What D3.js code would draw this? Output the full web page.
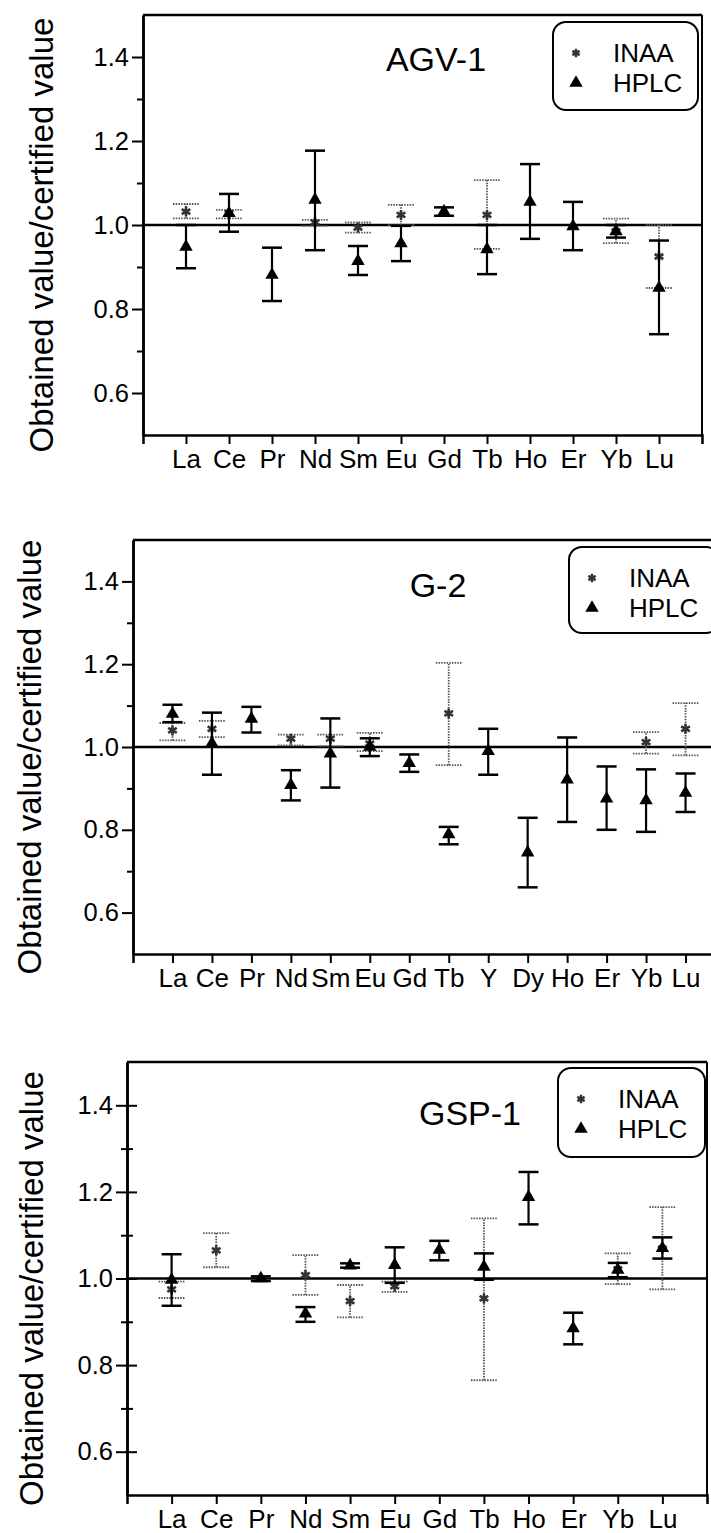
<!DOCTYPE html>
<html>
<head>
<meta charset="utf-8">
<script src="https://d3js.org/d3.v7.min.js"></script>
<style>
body { margin: 0; background: white; }
svg { display: block; background: white; font-family: "Liberation Sans", Arial, sans-serif; }
</style>
</head>
<body>
<svg id="chart" width="711" height="1533"></svg>
<script>
// ---- AGV-1 ----
var agvCats    = ["La","Ce","Pr","Nd","Sm","Eu","Gd","Tb","Ho","Er","Yb","Lu"];
var agvInaa    = [1.032, 1.028, null, 1.006, 0.994, 1.024, null, 1.024, null, null, 0.985, 0.925];
var agvInaaLo  = [1.016, 1.016, null, 0.998, 0.982, 1.000, null, 0.943, null, null, 0.957, 0.850];
var agvInaaHi  = [1.050, 1.036, null, 1.012, 1.006, 1.048, null, 1.107, null, null, 1.015, 1.000];
var agvHplc    = [0.948, 1.028, 0.881, 1.060, 0.914, 0.956, 1.032, 0.942, 1.055, 0.997, 0.985, 0.850];
var agvHplcLo  = [0.897, 0.984, 0.819, 0.940, 0.881, 0.914, 1.022, 0.883, 0.967, 0.940, 0.970, 0.740];
var agvHplcHi  = [1.000, 1.074, 0.946, 1.177, 0.950, 0.998, 1.042, 1.000, 1.145, 1.055, 1.000, 0.963];

// ---- G-2 ----
var g2Cats     = ["La","Ce","Pr","Nd","Sm","Eu","Gd","Tb","Y","Dy","Ho","Er","Yb","Lu"];
var g2Inaa     = [1.040, 1.044, null, 1.020, 1.020, 1.008, null, 1.081, null, null, null, null, 1.012, 1.044];
var g2InaaLo   = [1.016, 1.024, null, 1.004, 1.002, 0.990, null, 0.956, null, null, null, null, 0.984, 0.980];
var g2InaaHi   = [1.058, 1.063, null, 1.030, 1.030, 1.034, null, 1.203, null, null, null, null, 1.036, 1.106];
var g2Hplc     = [1.080, 1.009, 1.068, 0.908, 0.984, 1.000, 0.961, 0.789, 0.990, 0.745, 0.921, 0.875, 0.871, 0.889];
var g2HplcLo   = [1.060, 0.933, 1.035, 0.871, 0.902, 0.978, 0.940, 0.765, 0.933, 0.661, 0.819, 0.800, 0.795, 0.843];
var g2HplcHi   = [1.102, 1.083, 1.097, 0.944, 1.069, 1.021, 0.982, 0.807, 1.044, 0.829, 1.023, 0.953, 0.946, 0.936];

// ---- GSP-1 ----
var gspCats    = ["La","Ce","Pr","Nd","Sm","Eu","Gd","Tb","Ho","Er","Yb","Lu"];
var gspInaa    = [0.975, 1.065, null, 1.008, 0.948, 0.982, null, 0.954, null, null, 1.021, 1.069];
var gspInaaLo  = [0.955, 1.026, null, 0.962, 0.910, 0.969, null, 0.765, null, null, 0.987, 0.975];
var gspInaaHi  = [0.993, 1.105, null, 1.054, 0.985, 0.993, null, 1.139, null, null, 1.058, 1.165];
var gspHplc    = [0.997, null, 1.000, 0.919, 1.030, 1.031, 1.066, 1.027, 1.188, 0.885, 1.020, 1.070];
var gspHplcLo  = [0.937, null, 0.994, 0.900, 1.025, 0.990, 1.042, 0.997, 1.125, 0.848, 1.003, 1.046];
var gspHplcHi  = [1.056, null, 1.005, 0.934, 1.035, 1.072, 1.087, 1.058, 1.246, 0.921, 1.036, 1.095];

var yMajor = [0.6, 0.8, 1.0, 1.2, 1.4];
var yMinor = [0.7, 0.9, 1.1, 1.3];
var yLabel = "Obtained value/certified value";

var panels = [
  {title: "AGV-1", cats: agvCats, inaa: [agvInaa, agvInaaLo, agvInaaHi], hplc: [agvHplc, agvHplcLo, agvHplcHi],
   left: 143, right: 702, top: 15, bottom: 435, titleX: 436, titleY: 71,
   legend: {x: 553, y: 22, w: 145, h: 88}, labelX: 53, cross: false},
  {title: "G-2", cats: g2Cats, inaa: [g2Inaa, g2InaaLo, g2InaaHi], hplc: [g2Hplc, g2HplcLo, g2HplcHi],
   left: 133, right: 725, top: 540, bottom: 954, titleX: 438, titleY: 597,
   legend: {x: 569, y: 547, w: 150, h: 86}, labelX: 41, cross: false},
  {title: "GSP-1", cats: gspCats, inaa: [gspInaa, gspInaaLo, gspInaaHi], hplc: [gspHplc, gspHplcLo, gspHplcHi],
   left: 127, right: 707, top: 1062, bottom: 1495, titleX: 470, titleY: 1125,
   legend: {x: 558, y: 1068, w: 147, h: 89}, labelX: 43, cross: true}
];

var svg = d3.select("#chart");

var triangle = d3.symbol().type(d3.symbolTriangle).size(78);
var asterisk = d3.symbol().type(d3.symbolAsterisk).size(70);

panels.forEach(function(p) {
  var g = svg.append("g");

  var x = d3.scalePoint().domain(p.cats).range([p.left, p.right]).padding(1);
  var y = d3.scaleLinear().domain([0.5, 1.5]).range([p.bottom, p.top]);

  // frame top + right
  g.append("line").attr("x1", p.left).attr("x2", p.right).attr("y1", p.top).attr("y2", p.top)
    .attr("stroke", "#000").attr("stroke-width", 2.5);
  g.append("line").attr("x1", p.right).attr("x2", p.right).attr("y1", p.top).attr("y2", p.bottom)
    .attr("stroke", "#000").attr("stroke-width", 2);

  // y axis
  var ya = g.append("g").attr("transform", "translate(" + p.left + ",0)")
    .call(d3.axisLeft(y).tickValues(yMajor).tickFormat(d3.format(".1f")).tickSize(11).tickSizeOuter(0).tickPadding(3));
  var ym = g.append("g").attr("transform", "translate(" + p.left + ",0)")
    .call(d3.axisLeft(y).tickValues(yMinor).tickFormat("").tickSize(6).tickSizeOuter(0));
  if (p.cross) {
    ya.selectAll(".tick line").attr("x1", 10);
    ym.selectAll(".tick line").attr("x1", 6);
  }
  [ya, ym].forEach(function(a) {
    a.select(".domain").attr("stroke-width", 2.5);
    a.selectAll(".tick line").attr("stroke-width", 2);
    a.selectAll("text").attr("font-size", 25.5).attr("fill", "#000")
      .attr("font-family", "Liberation Sans, Arial, sans-serif");
  });

  // x axis
  var xa = g.append("g").attr("transform", "translate(0," + p.bottom + ")")
    .call(d3.axisBottom(x).tickSize(9).tickSizeOuter(9).tickPadding(6));
  xa.select(".domain").attr("stroke-width", 2.5);
  xa.selectAll(".tick line").attr("stroke-width", 2);
  xa.selectAll("text").attr("font-size", 26).attr("fill", "#000")
    .attr("font-family", "Liberation Sans, Arial, sans-serif");

  // y label
  g.append("text")
    .attr("transform", "rotate(-90)")
    .attr("x", -(p.top + p.bottom) / 2 - 10)
    .attr("y", p.labelX)
    .attr("text-anchor", "middle")
    .attr("font-size", 33)
    .text(yLabel);

  // reference line at 1.0
  g.append("line").attr("x1", p.left).attr("x2", p.right).attr("y1", y(1)).attr("y2", y(1))
    .attr("stroke", "#000").attr("stroke-width", 2.5);

  // INAA: grey dotted error bars + asterisk
  var inaaIdx = p.cats.map(function(c, i) { return i; }).filter(function(i) { return p.inaa[0][i] != null; });
  var gi = g.append("g").attr("stroke", "#555").attr("stroke-width", 1.8).attr("stroke-dasharray", "1.5,1.2");
  inaaIdx.forEach(function(i) {
    var cx = x(p.cats[i]);
    gi.append("line").attr("x1", cx).attr("x2", cx).attr("y1", y(p.inaa[1][i])).attr("y2", y(p.inaa[2][i]));
    gi.append("line").attr("x1", cx - 13).attr("x2", cx + 13).attr("y1", y(p.inaa[1][i])).attr("y2", y(p.inaa[1][i]));
    gi.append("line").attr("x1", cx - 13).attr("x2", cx + 13).attr("y1", y(p.inaa[2][i])).attr("y2", y(p.inaa[2][i]));
  });
  g.selectAll(".inaa").data(inaaIdx).enter().append("path")
    .attr("class", "inaa")
    .attr("d", asterisk)
    .attr("transform", function(i) { return "translate(" + x(p.cats[i]) + "," + y(p.inaa[0][i]) + ")"; })
    .attr("fill", "none").attr("stroke", "#333").attr("stroke-width", 2.6);

  // HPLC: black error bars + triangle
  var hplcIdx = p.cats.map(function(c, i) { return i; }).filter(function(i) { return p.hplc[0][i] != null; });
  var gh = g.append("g").attr("stroke", "#000");
  hplcIdx.forEach(function(i) {
    var cx = x(p.cats[i]);
    gh.append("line").attr("x1", cx).attr("x2", cx).attr("y1", y(p.hplc[1][i])).attr("y2", y(p.hplc[2][i])).attr("stroke-width", 2.2);
    gh.append("line").attr("x1", cx - 10).attr("x2", cx + 10).attr("y1", y(p.hplc[1][i])).attr("y2", y(p.hplc[1][i])).attr("stroke-width", 2.5);
    gh.append("line").attr("x1", cx - 10).attr("x2", cx + 10).attr("y1", y(p.hplc[2][i])).attr("y2", y(p.hplc[2][i])).attr("stroke-width", 2.5);
  });
  g.selectAll(".hplc").data(hplcIdx).enter().append("path")
    .attr("class", "hplc")
    .attr("d", triangle)
    .attr("transform", function(i) { return "translate(" + x(p.cats[i]) + "," + y(p.hplc[0][i]) + ")"; })
    .attr("fill", "#000");

  // title
  g.append("text").attr("x", p.titleX).attr("y", p.titleY).attr("text-anchor", "middle")
    .attr("font-size", 34).text(p.title);

  // legend
  var L = p.legend;
  var lg = g.append("g").attr("transform", "translate(" + L.x + "," + L.y + ")");
  lg.append("rect").attr("width", L.w).attr("height", L.h).attr("rx", 13)
    .attr("fill", "white").attr("stroke", "#000").attr("stroke-width", 2);
  lg.append("path").attr("d", d3.symbol().type(d3.symbolAsterisk).size(50))
    .attr("transform", "translate(23,31)").attr("fill", "none").attr("stroke", "#333").attr("stroke-width", 2.4);
  lg.append("path").attr("d", triangle).attr("transform", "translate(23,61)").attr("fill", "#000");
  lg.append("text").attr("x", 60).attr("y", 40).attr("font-size", 26).text("INAA");
  lg.append("text").attr("x", 60).attr("y", 70).attr("font-size", 26).text("HPLC");
});
</script>
</body>
</html>
